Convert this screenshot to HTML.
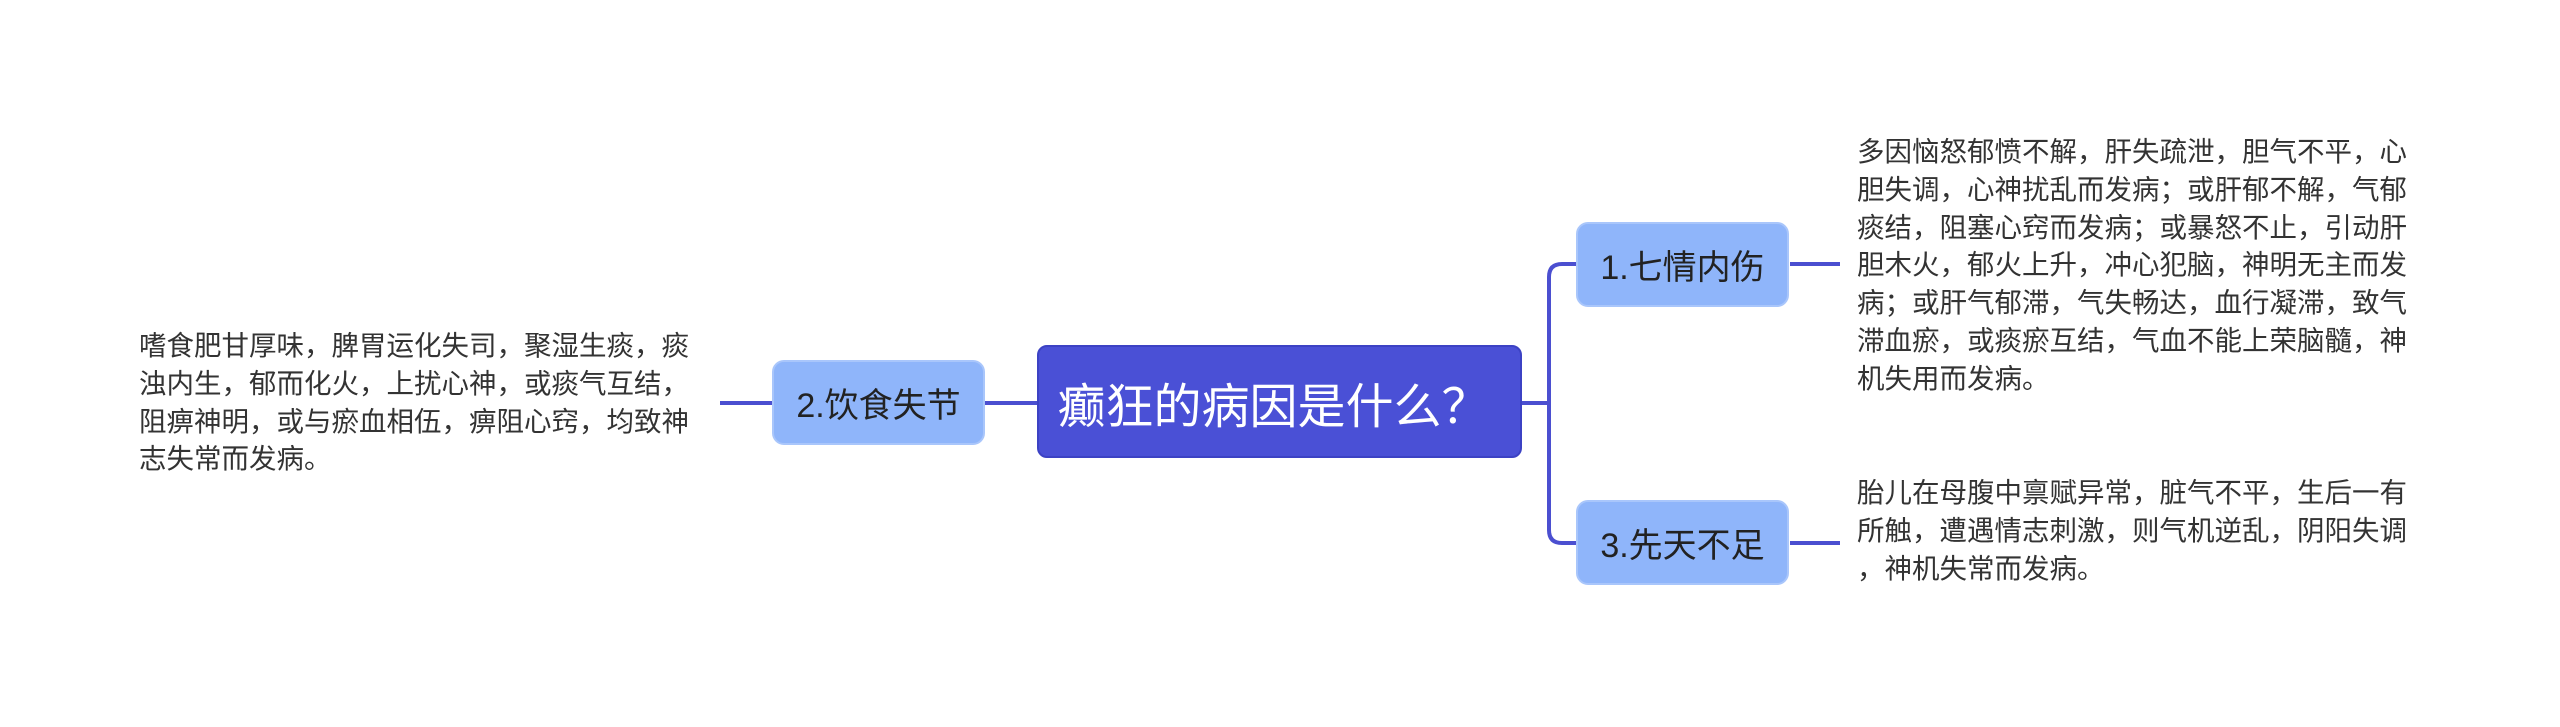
<!DOCTYPE html>
<html><head><meta charset="utf-8"><style>
body{margin:0;width:2560px;height:727px;background:#fff;position:relative;overflow:hidden;font-family:"Liberation Sans","Noto Sans CJK SC",sans-serif}
.n{position:absolute;box-sizing:border-box;display:flex;align-items:center;justify-content:center;white-space:nowrap}
.c{left:1037px;top:345px;width:485px;height:113px;background:#4a50d6;color:#fff;font-size:48px;border-radius:10px;border:2px solid #3c42c4;padding-right:12px}
.s{width:213px;height:85px;background:#8fb5fa;color:#222;font-size:34px;border-radius:12px;border:2px solid #a9c6fb}
.t{position:absolute;font-size:27.5px;line-height:37.8px;color:#333;white-space:nowrap}
</style></head><body>
<svg width="2560" height="727" style="position:absolute;left:0;top:0">
<g stroke="#4b4fd0" stroke-width="4" fill="none">
<path d="M1522 403 H1549"/>
<path d="M1576 264 H1562 Q1549 264 1549 277 V530 Q1549 543 1562 543 H1576"/>
<path d="M1790 264 H1840"/>
<path d="M1790 543 H1840"/>
<path d="M985 403 H1037"/>
<path d="M720 403 H772"/>
</g></svg>
<div class="n c">癫狂的病因是什么？</div>
<div class="n s" style="left:772px;top:360px">2.饮食失节</div>
<div class="n s" style="left:1576px;top:222px">1.七情内伤</div>
<div class="n s" style="left:1576px;top:500px">3.先天不足</div>
<div class="t" style="left:139px;top:327px">嗜食肥甘厚味，脾胃运化失司，聚湿生痰，痰<br>浊内生，郁而化火，上扰心神，或痰气互结，<br>阻痹神明，或与瘀血相伍，痹阻心窍，均致神<br>志失常而发病。</div>
<div class="t" style="left:1857px;top:133px">多因恼怒郁愤不解，肝失疏泄，胆气不平，心<br>胆失调，心神扰乱而发病；或肝郁不解，气郁<br>痰结，阻塞心窍而发病；或暴怒不止，引动肝<br>胆木火，郁火上升，冲心犯脑，神明无主而发<br>病；或肝气郁滞，气失畅达，血行凝滞，致气<br>滞血瘀，或痰瘀互结，气血不能上荣脑髓，神<br>机失用而发病。</div>
<div class="t" style="left:1857px;top:474px">胎儿在母腹中禀赋异常，脏气不平，生后一有<br>所触，遭遇情志刺激，则气机逆乱，阴阳失调<br>，神机失常而发病。</div>
</body></html>
